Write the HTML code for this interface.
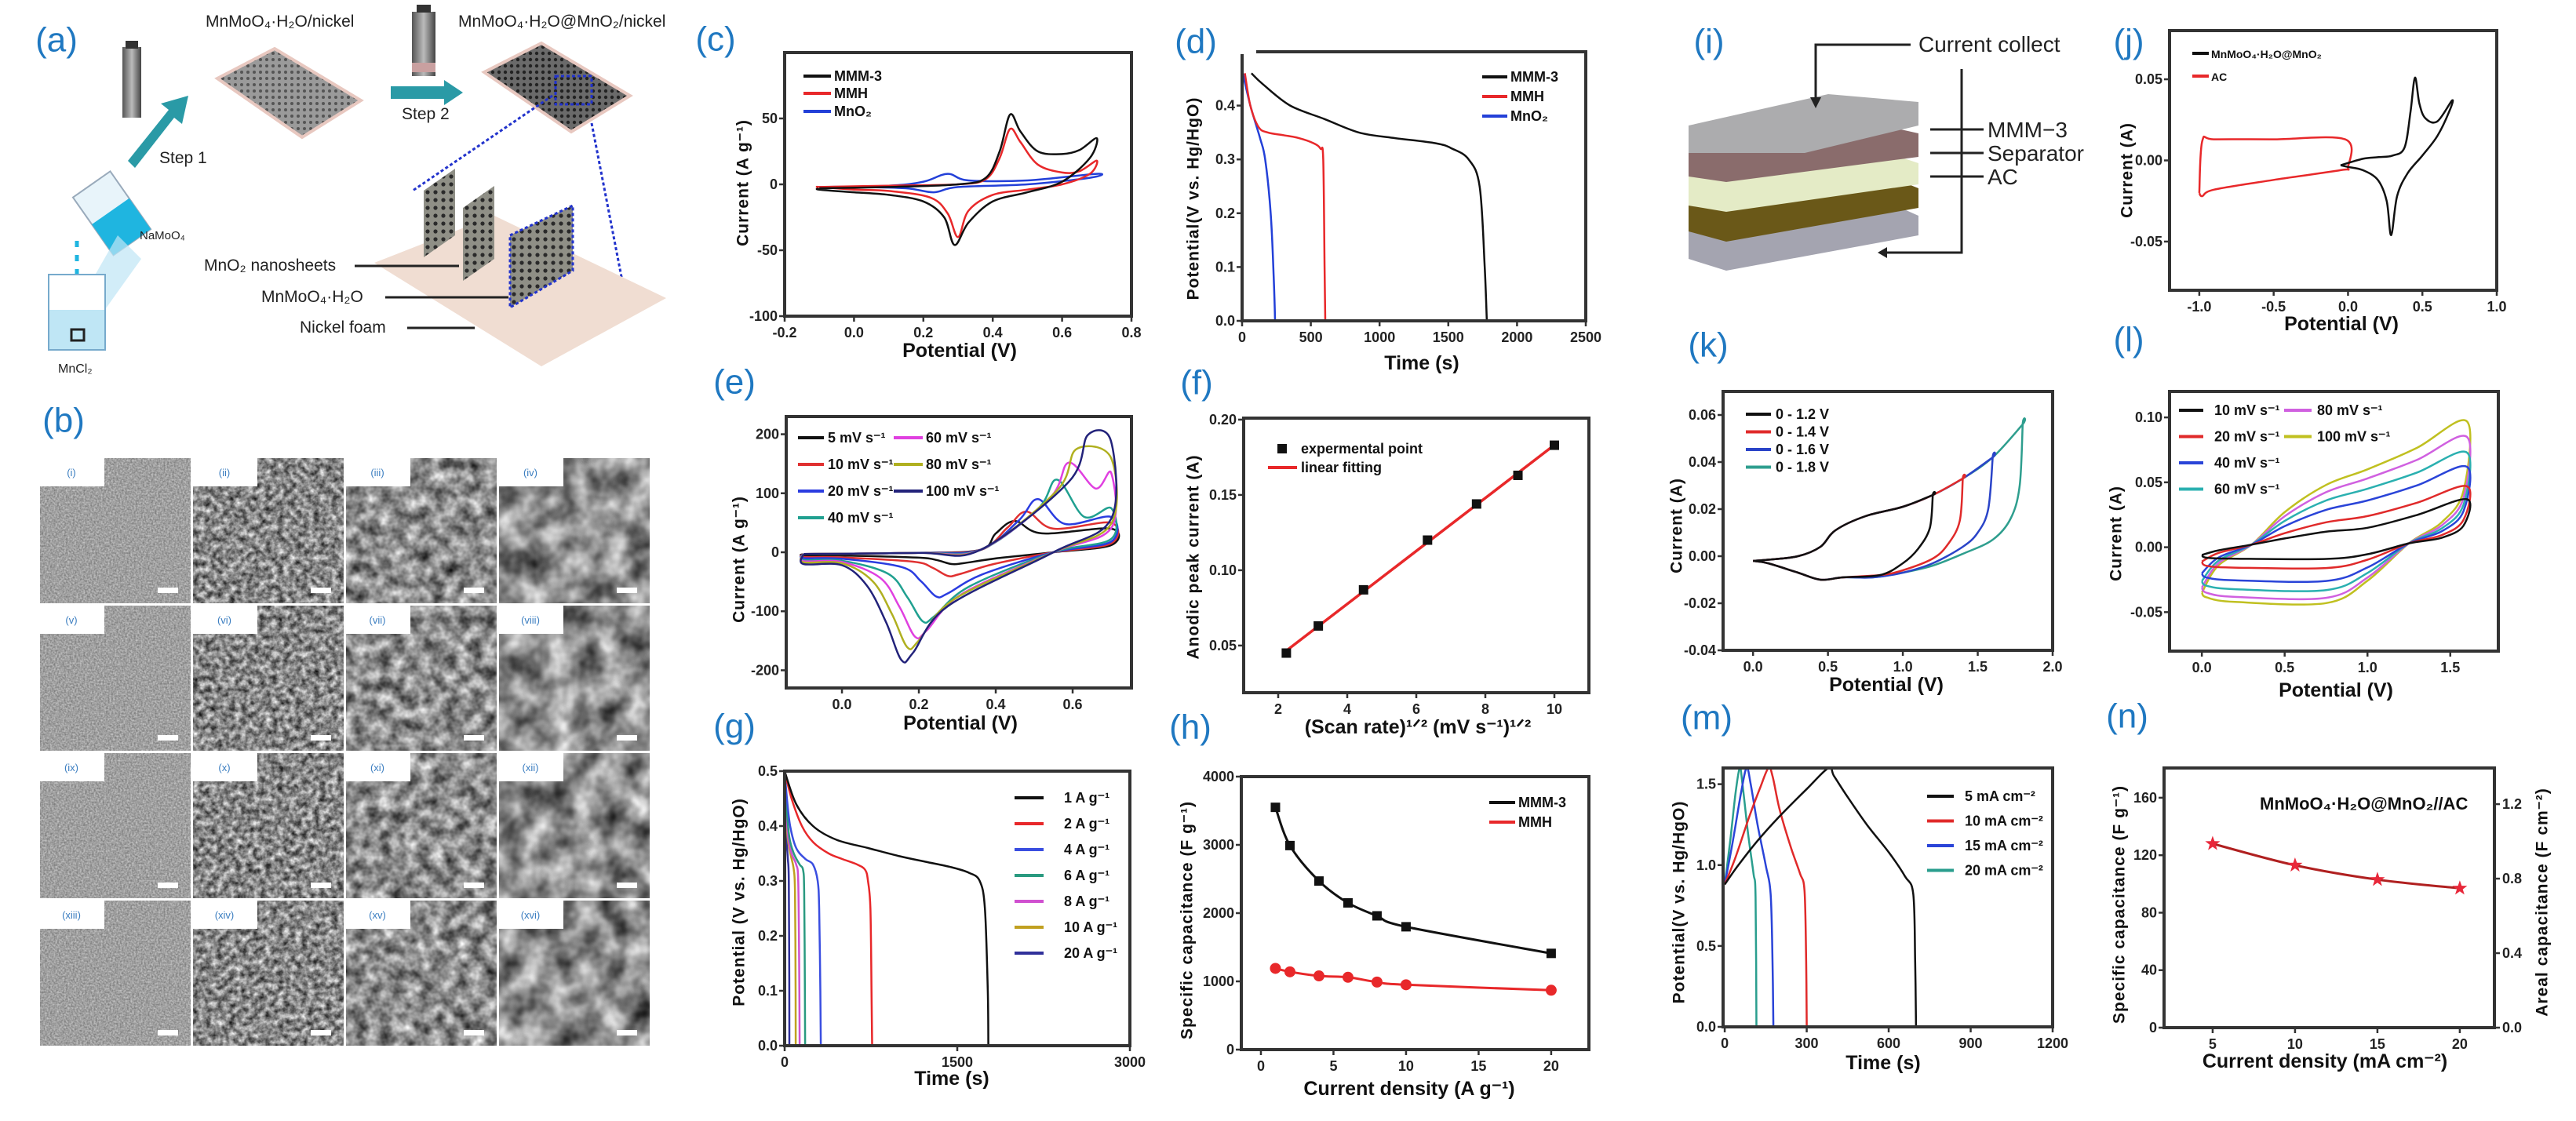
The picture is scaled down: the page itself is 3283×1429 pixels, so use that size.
<!DOCTYPE html>
<html><head><meta charset="utf-8"><title>MnMoO4·H2O@MnO2 figure</title>
<style>
html,body{margin:0;padding:0;background:#fff;}
svg{display:block;}
.tk{font-family:"Liberation Sans Narrow","Liberation Sans",sans-serif;font-weight:bold;font-size:18px;fill:#222;}
.ttl{font-family:"Liberation Sans Narrow","Liberation Sans",sans-serif;font-weight:bold;font-size:25px;fill:#111;}
.ytl{font-family:"Liberation Sans",sans-serif;font-weight:bold;font-size:21px;fill:#111;letter-spacing:1px;}
.lg{font-family:"Liberation Sans Narrow","Liberation Sans",sans-serif;font-weight:bold;font-size:18px;fill:#111;}
.pl{font-family:"Liberation Sans",sans-serif;font-size:44px;fill:#1f78c1;}
.sch{font-family:"Liberation Sans Narrow","Liberation Sans",sans-serif;font-size:21px;fill:#222;}
.sem{font-family:"Liberation Sans",sans-serif;font-size:13px;fill:#3a7dc0;}
</style></head>
<body>
<svg id="fig" xmlns="http://www.w3.org/2000/svg" width="3283" height="1429" viewBox="0 0 3283 1429">
<defs>
  <filter id="semf1" x="0" y="0" width="1" height="1" color-interpolation-filters="sRGB"><feTurbulence type="fractalNoise" baseFrequency="0.45" numOctaves="2" seed="3"/><feColorMatrix values="0.45 0 0 0 0.40  0.45 0 0 0 0.40  0.45 0 0 0 0.40  0 0 0 0 1"/></filter>
  <filter id="semf2" x="0" y="0" width="1" height="1" color-interpolation-filters="sRGB"><feTurbulence type="fractalNoise" baseFrequency="0.13" numOctaves="3" seed="5"/><feColorMatrix values="1.1 0 0 0 -0.02  1.1 0 0 0 -0.02  1.1 0 0 0 -0.02  0 0 0 0 1"/></filter>
  <filter id="semf3" x="0" y="0" width="1" height="1" color-interpolation-filters="sRGB"><feTurbulence type="fractalNoise" baseFrequency="0.06" numOctaves="3" seed="7"/><feColorMatrix values="1.1 0 0 0 0.0  1.1 0 0 0 0.0  1.1 0 0 0 0.0  0 0 0 0 1"/></filter>
  <filter id="semf4" x="0" y="0" width="1" height="1" color-interpolation-filters="sRGB"><feTurbulence type="fractalNoise" baseFrequency="0.03" numOctaves="3" seed="9"/><feColorMatrix values="1.1 0 0 0 0.0  1.1 0 0 0 0.0  1.1 0 0 0 0.0  0 0 0 0 1"/></filter>
  <pattern id="pins" width="8" height="8" patternUnits="userSpaceOnUse"><rect width="8" height="8" fill="#9a9a9a"/><circle cx="4" cy="4" r="2" fill="#555"/></pattern>
  <pattern id="pins2" width="8" height="8" patternUnits="userSpaceOnUse"><rect width="8" height="8" fill="#6a6a6a"/><circle cx="4" cy="4" r="2.2" fill="#222"/></pattern>
  <pattern id="dots" width="10" height="10" patternUnits="userSpaceOnUse"><rect width="10" height="10" fill="#8f8f86"/><circle cx="5" cy="5" r="2.6" fill="#2a2a2a"/></pattern>
  <linearGradient id="auto" x1="0" x2="1"><stop offset="0" stop-color="#555"/><stop offset="0.5" stop-color="#bbb"/><stop offset="1" stop-color="#444"/></linearGradient>
</defs>

<!-- ===== Panel (a) schematic ===== -->
<g>
  <text class="pl" x="72" y="51" text-anchor="middle" dominant-baseline="central">(a)</text>
  <text class="sch" x="262" y="34">MnMoO₄·H₂O/nickel</text>
  <text class="sch" x="584" y="34">MnMoO₄·H₂O@MnO₂/nickel</text>
  <g><rect x="156" y="60" width="24" height="90" fill="url(#auto)"/><rect x="160" y="52" width="16" height="10" fill="#333"/></g>
  <g><rect x="525" y="15" width="30" height="82" fill="url(#auto)"/><rect x="531" y="6" width="18" height="10" fill="#333"/><rect x="525" y="80" width="30" height="12" fill="#c9a0a0"/></g>
  <polygon points="163,205 215,140 205,132 240,122 232,158 222,150 172,214" fill="#2a9aa6"/>
  <text class="sch" x="203" y="208">Step 1</text>
  <polygon points="498,110 566,110 566,102 590,118 566,134 566,126 498,126" fill="#2a9aa6"/>
  <text class="sch" x="512" y="152">Step 2</text>
  <polygon points="277,100 350,62 460,128 385,175" fill="url(#pins)" stroke="#e8c8c0" stroke-width="4"/>
  <polygon points="617,92 690,55 803,122 728,168" fill="url(#pins2)" stroke="#e8c8c0" stroke-width="4"/>
  <rect x="708" y="97" width="46" height="36" fill="none" stroke="#2233cc" stroke-width="3" stroke-dasharray="4,3"/>
  <line x1="704" y1="122" x2="526" y2="243" stroke="#2233cc" stroke-width="3" stroke-dasharray="4,3"/>
  <line x1="754" y1="157" x2="793" y2="358" stroke="#2233cc" stroke-width="3" stroke-dasharray="4,3"/>
  <polygon points="477,335 630,275 849,380 690,467" fill="#f0ddd2"/>
  <polygon points="540,243 580,215 580,300 540,328" fill="url(#dots)"/>
  <polygon points="590,265 630,237 630,330 590,358" fill="url(#dots)"/>
  <polygon points="650,300 730,262 730,345 650,392" fill="url(#dots)" stroke="#2233cc" stroke-width="3" stroke-dasharray="4,3"/>
  <text class="sch" x="260" y="345">MnO₂ nanosheets</text>
  <line x1="452" y1="339" x2="585" y2="339" stroke="#222" stroke-width="3"/>
  <text class="sch" x="333" y="385">MnMoO₄·H₂O</text>
  <line x1="491" y1="379" x2="648" y2="379" stroke="#222" stroke-width="3"/>
  <text class="sch" x="382" y="424">Nickel foam</text>
  <line x1="519" y1="418" x2="605" y2="418" stroke="#222" stroke-width="3"/>
  <g transform="rotate(-35 140 270)"><rect x="112" y="228" width="58" height="90" fill="#e8f4fa" stroke="#9ab" stroke-width="2"/><rect x="112" y="270" width="58" height="48" fill="#1fb5e0"/></g>
  <polygon points="150,300 180,330 130,400 110,370" fill="#bfe6f5" opacity="0.7"/>
  <text class="sch" x="178" y="305" style="font-size:15px">NaMoO₄</text>
  <line x1="98" y1="307" x2="98" y2="370" stroke="#1fb5e0" stroke-width="5" stroke-dasharray="8,10"/>
  <rect x="62" y="350" width="72" height="96" fill="#fff" stroke="#7ac" stroke-width="2"/>
  <rect x="63" y="395" width="70" height="50" fill="#bfe6f5"/>
  <rect x="91" y="420" width="16" height="14" fill="none" stroke="#222" stroke-width="3"/>
  <text class="sch" x="74" y="475" style="font-size:16px">MnCl₂</text>
</g>

<!-- ===== Panel (b) SEM grid ===== -->
<g id="semgrid">
  <text class="pl" x="81" y="536" text-anchor="middle" dominant-baseline="central">(b)</text>
</g>

<!-- ===== Panel (i) schematic ===== -->
<g>
  <text class="pl" x="2178" y="53" text-anchor="middle" dominant-baseline="central">(i)</text>
  <polygon points="2152,290 2400,255 2445,275 2445,300 2200,345 2152,330" fill="#a4a4b0"/>
  <polygon points="2152,255 2400,222 2445,240 2445,265 2200,308 2152,295" fill="#6a5818"/>
  <polygon points="2152,225 2400,193 2445,208 2445,235 2200,270 2152,262" fill="#e4ebc6"/>
  <polygon points="2152,192 2400,160 2445,170 2445,200 2200,232 2152,225" fill="#8a6c6c"/>
  <polygon points="2152,160 2330,120 2445,130 2445,160 2300,195 2152,195" fill="#acacae"/>
  <polyline points="2435,57 2314,57 2314,130" fill="none" stroke="#222" stroke-width="3"/>
  <polygon points="2307,124 2321,124 2314,138" fill="#222"/>
  <text class="sch" x="2445" y="66" style="font-size:28px">Current collect</text>
  <polyline points="2500,88 2500,322 2400,322" fill="none" stroke="#222" stroke-width="3"/>
  <polygon points="2393,322 2405,315 2405,329" fill="#222"/>
  <line x1="2528" y1="165" x2="2460" y2="165" stroke="#222" stroke-width="3"/>
  <line x1="2528" y1="195" x2="2460" y2="195" stroke="#222" stroke-width="3"/>
  <line x1="2528" y1="225" x2="2460" y2="225" stroke="#222" stroke-width="3"/>
  <text class="sch" x="2533" y="175" style="font-size:28px">MMM−3</text>
  <text class="sch" x="2533" y="205" style="font-size:28px">Separator</text>
  <text class="sch" x="2533" y="235" style="font-size:28px">AC</text>
</g>
<g id="charts"></g>
</svg>

<script>
// ---------------- DATA ----------------
// (c) CV comparison
const cSeries = ['MMM-3', 'MMH', 'MnO2'];
const cV_mmm3 = [-0.1, 0.1, 0.3, 0.38, 0.42, 0.45, 0.48, 0.53, 0.6, 0.65, 0.7, 0.68, 0.6, 0.5, 0.4, 0.33, 0.29, 0.26, 0.2, 0.1, 0.0, -0.1, -0.1];
const cI_mmm3 = [-3, -2, 0, 5, 25, 53, 40, 25, 23, 26, 35, 20, 2, -6, -13, -29, -46, -25, -13, -8, -6, -4, -3];
const cV_mmh = [-0.1, 0.1, 0.3, 0.38, 0.42, 0.45, 0.48, 0.53, 0.6, 0.65, 0.7, 0.68, 0.6, 0.5, 0.4, 0.33, 0.3, 0.27, 0.22, 0.1, 0.0, -0.1, -0.1];
const cI_mmh = [-2, -1, 0, 4, 20, 42, 32, 15, 9, 10, 18, 8, 0, -4, -8, -20, -40, -22, -10, -5, -4, -2, -2];
const cV_mno2 = [-0.1, 0.1, 0.2, 0.27, 0.33, 0.5, 0.7, 0.68, 0.5, 0.3, 0.23, 0.15, 0.0, -0.1];
const cI_mno2 = [-2, -1, 2, 8, 3, 3, 8, 5, 0, -2, -6, -3, -2, -2];
// (d) GCD comparison
const dT_mmm3 = [68, 150, 350, 600, 850, 1100, 1408, 1528, 1648, 1728, 1765, 1780];
const dV_mmm3 = [0.46, 0.44, 0.40, 0.375, 0.35, 0.34, 0.33, 0.32, 0.30, 0.25, 0.10, 0];
const dT_mmh = [20, 60, 120, 188, 300, 408, 520, 570, 590, 600, 605];
const dV_mmh = [0.46, 0.40, 0.36, 0.35, 0.345, 0.34, 0.33, 0.32, 0.30, 0.10, 0];
const dT_mno2 = [5, 60, 130, 168, 208, 230, 240];
const dV_mno2 = [0.46, 0.40, 0.34, 0.30, 0.20, 0.08, 0];
// (e) CV at scan rates
const eRates = [5, 10, 20, 40, 60, 80, 100];
const eAnodV = [0.45, 0.48, 0.51, 0.56, 0.59, 0.61, 0.64];
const eAnodI = [53, 69, 90, 123, 152, 175, 199];
const eCathV = [0.285, 0.275, 0.245, 0.21, 0.19, 0.17, 0.155];
const eCathI = [-20, -40, -75, -117, -143, -161, -183];
const eEndI = [40, 50, 60, 75, 135, 160, 188];
const eStartI = [-5, -8, -10, -13, -15, -17, -20];
// (f) anodic peak current vs sqrt scan rate
const fX = [2.236, 3.162, 4.472, 6.325, 7.746, 8.944, 10];
const fY = [0.045, 0.063, 0.087, 0.120, 0.144, 0.163, 0.183];
// (g) GCD at current densities
const gRates = [1, 2, 4, 6, 8, 10, 20];
const gT = [
  [0, 100, 246, 450, 724, 1000, 1223, 1449, 1600, 1695, 1740, 1765, 1770],
  [0, 60, 150, 250, 383, 500, 630, 700, 724, 745, 755, 760],
  [0, 20, 48, 100, 180, 246, 287, 300, 310, 314],
  [0, 15, 40, 80, 130, 160, 170, 176, 178],
  [0, 12, 30, 60, 100, 118, 126, 130],
  [0, 10, 25, 50, 80, 90, 95, 96],
  [0, 6, 15, 28, 36, 40, 41]
];
const gV = [
  [0.5, 0.44, 0.40, 0.375, 0.36, 0.345, 0.335, 0.325, 0.315, 0.30, 0.25, 0.10, 0],
  [0.5, 0.45, 0.40, 0.37, 0.35, 0.34, 0.33, 0.32, 0.30, 0.25, 0.10, 0],
  [0.5, 0.45, 0.40, 0.36, 0.34, 0.33, 0.30, 0.25, 0.10, 0],
  [0.5, 0.44, 0.38, 0.35, 0.33, 0.32, 0.28, 0.10, 0],
  [0.5, 0.44, 0.38, 0.35, 0.33, 0.30, 0.15, 0],
  [0.5, 0.44, 0.38, 0.35, 0.32, 0.28, 0.12, 0],
  [0.5, 0.44, 0.38, 0.34, 0.30, 0.12, 0]
];
// (h) specific capacitance
const hX = [1, 2, 4, 6, 8, 10, 20];
const hMMM3 = [3550, 2990, 2470, 2150, 1960, 1800, 1410];
const hMMH = [1190, 1140, 1080, 1060, 990, 950, 870];
// (j) CV of positive and negative electrodes
const jV_ac = [-1.0, -0.98, -0.9, -0.5, -0.02, 0.0, -0.05, -0.5, -0.9, -0.98, -1.0];
const jI_ac = [-0.02, 0.012, 0.013, 0.013, 0.013, -0.004, -0.006, -0.012, -0.018, -0.022, -0.02];
const jV_mmm = [-0.05, 0.1, 0.2, 0.3, 0.38, 0.42, 0.45, 0.48, 0.52, 0.6, 0.7, 0.68, 0.6, 0.5, 0.4, 0.33, 0.29, 0.26, 0.2, 0.1, 0.0, -0.05];
const jI_mmm = [-0.003, 0.001, 0.002, 0.003, 0.008, 0.03, 0.051, 0.035, 0.026, 0.024, 0.037, 0.03, 0.015, 0.003, -0.008, -0.022, -0.046, -0.025, -0.012, -0.006, -0.004, -0.003];
// (k) device CV at voltage windows
const kWindows = ['0 - 1.2 V', '0 - 1.4 V', '0 - 1.6 V', '0 - 1.8 V'];
const kUpV = [0, 0.1, 0.3, 0.45, 0.55, 0.75, 1.0, 1.2, 1.4, 1.6, 1.8];
const kUpI = [-0.002, -0.0015, 0, 0.004, 0.011, 0.017, 0.021, 0.026, 0.033, 0.042, 0.056];
const kMax = [1.2, 1.4, 1.6, 1.8];
const kLowV = [
  [1.2, 1.18, 1.1, 1.0, 0.85, 0.6, 0.45, 0.3, 0.1, 0],
  [1.4, 1.38, 1.3, 1.2, 1.0, 0.85, 0.6, 0.45, 0.3, 0.1, 0],
  [1.6, 1.57, 1.5, 1.4, 1.2, 1.0, 0.8, 0.6, 0.45, 0.3, 0.1, 0],
  [1.8, 1.78, 1.72, 1.6, 1.4, 1.2, 1.0, 0.8, 0.6, 0.45, 0.3, 0.1, 0]
];
const kLowI = [
  [0.026, 0.012, 0.003, -0.003, -0.008, -0.009, -0.010, -0.007, -0.003, -0.002],
  [0.033, 0.015, 0.005, -0.001, -0.006, -0.008, -0.009, -0.010, -0.007, -0.003, -0.002],
  [0.042, 0.02, 0.01, 0.004, -0.003, -0.007, -0.009, -0.009, -0.010, -0.007, -0.003, -0.002],
  [0.056, 0.03, 0.016, 0.007, 0.001, -0.004, -0.007, -0.009, -0.009, -0.010, -0.007, -0.003, -0.002]
];
// (l) device CV at scan rates
const lRates = [10, 20, 40, 60, 80, 100];
const lTop = [0.037, 0.047, 0.062, 0.073, 0.085, 0.097];
const lLow = [-0.009, -0.016, -0.026, -0.033, -0.039, -0.043];
const lUp = [0.015, 0.024, 0.036, 0.045, 0.053, 0.060];
const lStart = [-0.006, -0.011, -0.020, -0.026, -0.031, -0.035];
// (m) device GCD
const mRates = ['5 mA cm⁻²', '10 mA cm⁻²', '15 mA cm⁻²', '20 mA cm⁻²'];
const mT = [
  [0, 50, 120, 200, 300, 380, 400, 450, 520, 600, 660, 690, 697, 700],
  [0, 40, 90, 130, 160, 175, 200, 240, 275, 292, 298, 300],
  [0, 30, 60, 80, 95, 120, 150, 168, 175, 178],
  [0, 20, 40, 55, 65, 85, 105, 113, 116]
];
const mV = [
  [0.88, 1.0, 1.15, 1.3, 1.47, 1.6, 1.55, 1.42, 1.25, 1.08, 0.93, 0.82, 0.4, 0],
  [0.88, 1.05, 1.3, 1.48, 1.6, 1.55, 1.35, 1.12, 0.95, 0.84, 0.4, 0],
  [0.88, 1.15, 1.45, 1.6, 1.5, 1.25, 1.0, 0.82, 0.4, 0],
  [0.88, 1.15, 1.45, 1.6, 1.5, 1.2, 0.95, 0.8, 0]
];
// (n) device capacitance
const nX = [5, 10, 15, 20];
const nY = [128, 113, 103, 97];

// ---------------- HELPERS ----------------
const NS = 'http://www.w3.org/2000/svg';
const root = document.getElementById('charts');
function mk(tag, parent) { const e = document.createElementNS(NS, tag); parent.appendChild(e); return e; }
function set(e, o) { for (const k in o) e.setAttribute(k, o[k]); return e; }
function smooth(pts) {
  let d = 'M' + pts[0][0].toFixed(1) + ',' + pts[0][1].toFixed(1);
  for (let i = 0; i < pts.length - 1; i++) {
    const p0 = pts[i - 1] || pts[i], p1 = pts[i], p2 = pts[i + 1], p3 = pts[i + 2] || p2;
    const c1 = [p1[0] + (p2[0] - p0[0]) / 6, p1[1] + (p2[1] - p0[1]) / 6];
    const c2 = [p2[0] - (p3[0] - p1[0]) / 6, p2[1] - (p3[1] - p1[1]) / 6];
    d += 'C' + c1[0].toFixed(1) + ',' + c1[1].toFixed(1) + ' ' + c2[0].toFixed(1) + ',' + c2[1].toFixed(1) + ' ' + p2[0].toFixed(1) + ',' + p2[1].toFixed(1);
  }
  return d;
}
function axes(id, L, R, T, B, xmin, xmax, ymin, ymax) {
  const g = mk('g', root);
  
  
  const cp = mk('clipPath', g); cp.setAttribute('id', 'clip-' + id);
  const cr = mk('rect', cp); set(cr, { x: L, y: T, width: R - L, height: B - T });
  
  
  const plot = mk('g', g); plot.setAttribute('clip-path', 'url(#clip-' + id + ')');
  
  
  return { id, g, plot, L, R, T, B,
    sx: v => L + (v - xmin) / (xmax - xmin) * (R - L),
    sy: v => B - (v - ymin) / (ymax - ymin) * (B - T) };
}
function frame(a, xt, xd, yt, yd, xtitle, xtx, xty, ytitle, ytx, yty) {
  const f = mk('rect', a.g); set(f, { x: a.L, y: a.T, width: a.R - a.L, height: a.B - a.T, fill: 'none', stroke: '#333', 'stroke-width': 4 });
  
  
  xt.forEach(v => {
    const x = a.sx(v);
    const t = mk('line', a.g); set(t, { x1: x, x2: x, y1: a.B, y2: a.B + 7, stroke: '#333', 'stroke-width': 2.5 });
    
    
    const l = mk('text', a.g); set(l, { x: x, y: a.B + 27, 'text-anchor': 'middle', class: 'tk' }); l.textContent = v.toFixed(xd);
    
    
  });
  yt.forEach(v => {
    const y = a.sy(v);
    const t = mk('line', a.g); set(t, { x1: a.L - 7, x2: a.L, y1: y, y2: y, stroke: '#333', 'stroke-width': 2.5 });
    
    
    const l = mk('text', a.g); set(l, { x: a.L - 9, y: y + 6, 'text-anchor': 'end', class: 'tk' }); l.textContent = v.toFixed(yd);
    
    
  });
  const xtl = mk('text', a.g); set(xtl, { x: xtx, y: xty, 'text-anchor': 'middle', 'dominant-baseline': 'central', class: 'ttl' }); xtl.textContent = xtitle;
  
  
  const ytl = mk('text', a.g); set(ytl, { x: ytx, y: yty, 'text-anchor': 'middle', 'dominant-baseline': 'central', class: 'ytl', transform: 'rotate(-90 ' + ytx + ' ' + yty + ')' }); ytl.textContent = ytitle;
  
  
}
function curve(a, xs, ys, color, w, name) {
  const pts = xs.map((x, i) => [a.sx(x), a.sy(ys[i])]);
  const p = mk('path', a.plot); set(p, { d: smooth(pts), fill: 'none', stroke: color, 'stroke-width': w || 2.5, 'stroke-linejoin': 'round' });
  
  
  return p;
}
function legend(a, x1, x2, y, color, label, tx, size) {
  const l = mk('line', a.g); set(l, { x1: x1, x2: x2, y1: y, y2: y, stroke: color, 'stroke-width': 4 });
  
  
  const t = mk('text', a.g); set(t, { x: tx, y: y + 6, class: 'lg' }); t.textContent = label;
  if (size) t.style.fontSize = size + 'px';
  
  
}
function panelLabel(txt, x, y) {
  const t = mk('text', root); set(t, { x: x, y: y, 'text-anchor': 'middle', 'dominant-baseline': 'central', class: 'pl' }); t.textContent = txt;
  
  
}

// ---------------- SEM GRID ----------------
(function () {
  const sg = document.getElementById('semgrid');
  const nums = ['i','ii','iii','iv','v','vi','vii','viii','ix','x','xi','xii','xiii','xiv','xv','xvi'];
  for (let r = 0; r < 4; r++) for (let c = 0; c < 4; c++) {
    const x = 51 + c * 195, y = 584 + r * 188;
    const cell = mk('rect', sg); set(cell, { x: x, y: y, width: 192, height: 185, filter: 'url(#semf' + (c + 1) + ')' });
    
    
    const box = mk('rect', sg); set(box, { x: x, y: y, width: 82, height: 36, fill: '#fff' });
    
    
    const t = mk('text', sg); set(t, { x: x + 40, y: y + 23, 'text-anchor': 'middle', class: 'sem' }); t.textContent = '(' + nums[r * 4 + c] + ')';
    
    
    const sb = mk('rect', sg); set(sb, { x: x + 150, y: y + 165, width: 26, height: 7, fill: '#fff' });
    
    
  }
})();

// ---------------- CHARTS ----------------
const BLK = '#111', RED = '#e8282a', BLU = '#2340d8';
// (c)
panelLabel('(c)', 912, 50);
const ac = axes('c', 1000, 1442, 67, 403, -0.2, 0.8, -100, 100);
curve(ac, cV_mno2, cI_mno2, BLU, 2.5, 'cv-mno2');
curve(ac, cV_mmh, cI_mmh, RED, 2.5, 'cv-mmh');
curve(ac, cV_mmm3, cI_mmm3, BLK, 2.5, 'cv-mmm3');
frame(ac, [-0.2, 0, 0.2, 0.4, 0.6, 0.8], 1, [-100, -50, 0, 50], 0, 'Potential (V)', 1223, 447, 'Current (A g⁻¹)', 947, 233);
legend(ac, 1024, 1059, 97, BLK, 'MMM-3', 1063); legend(ac, 1024, 1059, 119, RED, 'MMH', 1063); legend(ac, 1024, 1059, 142, BLU, 'MnO₂', 1063);

// (d)
panelLabel('(d)', 1524, 53);
const ad = axes('d', 1583, 2021, 66, 409, 0, 2500, 0, 0.5);
curve(ad, dT_mno2, dV_mno2, BLU, 2.5, 'gcd-mno2');
curve(ad, dT_mmh, dV_mmh, RED, 2.5, 'gcd-mmh');
curve(ad, dT_mmm3, dV_mmm3, BLK, 2.5, 'gcd-mmm3');
frame(ad, [0, 500, 1000, 1500, 2000, 2500], 0, [0, 0.1, 0.2, 0.3, 0.4], 1, 'Time (s)', 1812, 463, 'Potential(V vs. Hg/HgO)', 1521, 253);
{ const cover = mk('rect', ad.g); set(cover, { x: 1581, y: 62, width: 20, height: 7, fill: '#fff' });
  
   }
legend(ad, 1889, 1921, 98, BLK, 'MMM-3', 1925); legend(ad, 1889, 1921, 123, RED, 'MMH', 1925); legend(ad, 1889, 1921, 148, BLU, 'MnO₂', 1925);

// (e)
panelLabel('(e)', 936, 487);
const ae = axes('e', 1002, 1442, 531, 877, -0.145, 0.753, -230, 230);
const eCol = ['#111', '#e03030', '#2a3ce0', '#20a090', '#e040e0', '#b0b020', '#22227a'];
eRates.forEach((r, i) => {
  const up = [[-0.1, -3], [0.2, -1], [0.36, 4], [eAnodV[i] - 0.05, eAnodI[i] * 0.6], [eAnodV[i], eAnodI[i]]];
  if (eAnodV[i] < 0.6) up.push([eAnodV[i] + 0.07, eEndI[i] * 0.8]);
  up.push([0.7, eEndI[i]]);
  const low = [[0.7, eEndI[i] * 0.3], [0.55, 0], [eCathV[i] + 0.12, eCathI[i] * 0.5], [eCathV[i] + 0.03, eCathI[i] * 0.93], [eCathV[i], eCathI[i]],
    [eCathV[i] - 0.04, eCathI[i] * 0.65], [eCathV[i] - 0.09, eCathI[i] * 0.2 + eStartI[i]], [0.0, eStartI[i] * 1.1], [-0.1, eStartI[i]], [-0.1, -3]];
  const all = up.concat(low);
  curve(ae, all.map(p => p[0]), all.map(p => p[1]), eCol[i], 2.5, 'cv-' + r + '-mv');
});
frame(ae, [0, 0.2, 0.4, 0.6], 1, [-200, -100, 0, 100, 200], 0, 'Potential (V)', 1224, 922, 'Current (A g⁻¹)', 942, 713);
[0, 1, 2, 3].forEach((k, j) => legend(ae, 1017, 1050, 558 + j * 34, eCol[k], eRates[k] + ' mV s⁻¹', 1055));
[4, 5, 6].forEach((k, j) => legend(ae, 1139, 1176, 558 + j * 34, eCol[k], eRates[k] + ' mV s⁻¹', 1180));

// (f)
panelLabel('(f)', 1525, 488);
const af = axes('f', 1585, 2025, 533, 883, 1, 11, 0.0187, 0.201);
{
  const n = fX.length, mx = fX.reduce((s, v) => s + v, 0) / n, my = fY.reduce((s, v) => s + v, 0) / n;
  let sxy = 0, sxx = 0; fX.forEach((x, i) => { sxy += (x - mx) * (fY[i] - my); sxx += (x - mx) * (x - mx); });
  const b = sxy / sxx, a0 = my - b * mx;
  const x0 = fX[0], x1 = fX[n - 1];
  const fl = mk('line', af.plot); set(fl, { x1: af.sx(x0), y1: af.sy(a0 + b * x0), x2: af.sx(x1), y2: af.sy(a0 + b * x1), stroke: RED, 'stroke-width': 3.5 });
  
  
  fX.forEach((x, i) => {
    const s = mk('rect', af.plot); set(s, { x: af.sx(x) - 6, y: af.sy(fY[i]) - 6, width: 12, height: 12, fill: '#111' });
    
    
  });
}
frame(af, [2, 4, 6, 8, 10], 0, [0.05, 0.10, 0.15, 0.20], 2, '(Scan rate)¹ᐟ² (mV s⁻¹)¹ᐟ²', 1807, 927, 'Anodic peak current (A)', 1521, 710);
{ const m = mk('rect', af.g); set(m, { x: 1628, y: 566, width: 12, height: 12, fill: '#111' });
  
  
  const t = mk('text', af.g); set(t, { x: 1658, y: 578, class: 'lg' }); t.textContent = 'expermental point';
  
   }
legend(af, 1616, 1653, 596, RED, 'linear fitting', 1658);

// (g)
panelLabel('(g)', 936, 926);
const ag = axes('g', 1000, 1440, 983, 1333, 0, 3000, 0, 0.5);
const gCol = ['#111', '#e8282a', '#3a4ee0', '#2a9a80', '#d050d0', '#c0a020', '#30309a'];
for (let i = gRates.length - 1; i >= 0; i--) curve(ag, gT[i], gV[i], gCol[i], 2.5, 'gcd-' + gRates[i] + '-ag');
frame(ag, [0, 1500, 3000], 0, [0, 0.1, 0.2, 0.3, 0.4, 0.5], 1, 'Time (s)', 1213, 1375, 'Potential (V vs. Hg/HgO)', 942, 1150);
gRates.forEach((r, i) => legend(ag, 1293, 1330, 1017 + i * 33, gCol[i], r + ' A g⁻¹', 1356));

// (h)
panelLabel('(h)', 1517, 927);
const ah = axes('h', 1582, 2025, 990, 1338, -1.35, 22.6, 0, 4000);
curve(ah, hX, hMMM3, '#111', 3, 'capacitance-mmm3-line');
curve(ah, hX, hMMH, RED, 3, 'capacitance-mmh-line');
hX.forEach((x, i) => {
  const s = mk('rect', ah.plot); set(s, { x: ah.sx(x) - 6, y: ah.sy(hMMM3[i]) - 6, width: 12, height: 12, fill: '#111' });
  
  
  const c = mk('circle', ah.plot); set(c, { cx: ah.sx(x), cy: ah.sy(hMMH[i]), r: 7, fill: RED });
  
  
});
frame(ah, [0, 5, 10, 15, 20], 0, [0, 1000, 2000, 3000, 4000], 0, 'Current density (A g⁻¹)', 1796, 1388, 'Specific capacitance (F g⁻¹)', 1513, 1173);
legend(ah, 1898, 1931, 1023, '#111', 'MMM-3', 1935); legend(ah, 1898, 1931, 1048, RED, 'MMH', 1935);

// (j)
panelLabel('(j)', 2713, 53);
const aj = axes('j', 2765, 3182, 39, 370, -1.2, 1.0, -0.08, 0.08);
curve(aj, jV_ac, jI_ac, RED, 2.5, 'cv-ac');
curve(aj, jV_mmm, jI_mmm, '#111', 2.5, 'cv-mnmoo4-mno2');
frame(aj, [-1, -0.5, 0, 0.5, 1], 1, [-0.05, 0, 0.05], 2, 'Potential (V)', 2984, 413, 'Current (A)', 2711, 217);
legend(aj, 2794, 2815, 68, '#111', 'MnMoO₄·H₂O@MnO₂', 2818, 14); legend(aj, 2794, 2815, 97, RED, 'AC', 2818, 14);

// (k)
panelLabel('(k)', 2177, 440);
const ak = axes('k', 2196, 2616, 499, 829, -0.2, 2.0, -0.04, 0.07);
const kCol = ['#111', '#e02a2a', '#2a44c8', '#2e9e8e'];
for (let i = kMax.length - 1; i >= 0; i--) {
  const uv = [], ui = [];
  kUpV.forEach((v, j) => { if (v <= kMax[i] + 1e-9) { uv.push(v); ui.push(kUpI[j]); } });
  curve(ak, uv.concat(kLowV[i]), ui.concat(kLowI[i]), kCol[i], 2.5, 'cv-window-' + kMax[i]);
}
frame(ak, [0, 0.5, 1.0, 1.5, 2.0], 1, [-0.04, -0.02, 0, 0.02, 0.04, 0.06], 2, 'Potential (V)', 2404, 873, 'Current (A)', 2137, 670);
kWindows.forEach((w, i) => legend(ak, 2225, 2257, 528 + i * 22.5, kCol[i], w, 2263));

// (l)
panelLabel('(l)', 2713, 433);
const al = axes('l', 2765, 3184, 499, 830, -0.195, 1.79, -0.08, 0.12);
const lCol = ['#111', '#e02a2a', '#2a44d8', '#2ab0b0', '#d060e0', '#c0c020'];
for (let i = lRates.length - 1; i >= 0; i--) {
  const pts = [[0, lStart[i]], [0.1, lStart[i] * 0.4], [0.3, 0.002], [0.5, lUp[i] * 0.45], [0.75, lUp[i] * 0.8], [1.0, lUp[i]],
    [1.3, lUp[i] + (lTop[i] - lUp[i]) * 0.45], [1.6, lTop[i]], [1.58, lTop[i] * 0.45], [1.45, lTop[i] * 0.2], [1.25, 0.003],
    [1.0, lLow[i] * 0.6], [0.75, lLow[i]], [0.2, lLow[i] * 0.98], [0.03, lLow[i] * 0.9], [0, lStart[i]]];
  curve(al, pts.map(p => p[0]), pts.map(p => p[1]), lCol[i], 2.5, 'cv-device-' + lRates[i] + '-mv');
}
frame(al, [0, 0.5, 1.0, 1.5], 1, [-0.05, 0, 0.05, 0.10], 2, 'Potential (V)', 2977, 880, 'Current (A)', 2697, 680);
[0, 1, 2, 3].forEach((k, j) => legend(al, 2777, 2808, 523 + j * 33.5, lCol[k], lRates[k] + ' mV s⁻¹', 2822));
[4, 5].forEach((k, j) => legend(al, 2911, 2946, 523 + j * 33.5, lCol[k], lRates[k] + ' mV s⁻¹', 2953));

// (m)
panelLabel('(m)', 2175, 915);
const am = axes('m', 2196, 2616, 979, 1309, -6, 1200, 0, 1.6);
const mCol = ['#111', '#e02a2a', '#2a44d8', '#2a9e8e'];
for (let i = mT.length - 1; i >= 0; i--) curve(am, mT[i], mV[i], mCol[i], 2.5, 'gcd-device-' + i);
frame(am, [0, 300, 600, 900, 1200], 0, [0, 0.5, 1.0, 1.5], 1, 'Time (s)', 2400, 1355, 'Potential(V vs. Hg/HgO)', 2140, 1150);
mRates.forEach((r, i) => legend(am, 2456, 2490, 1015 + i * 31.5, mCol[i], r, 2504));

// (n)
panelLabel('(n)', 2711, 913);
const an = axes('n', 2758, 3179, 979, 1310, 2.05, 22.1, 0, 180.7);
curve(an, nX, nY, '#b02020', 3, 'device-capacitance-line');
nX.forEach((x, i) => {
  const cx = an.sx(x), cy = an.sy(nY[i]);
  let pts = '';
  for (let k = 0; k < 10; k++) { const r = k % 2 ? 4 : 10, ang = -Math.PI / 2 + k * Math.PI / 5; pts += (cx + r * Math.cos(ang)).toFixed(1) + ',' + (cy + r * Math.sin(ang)).toFixed(1) + ' '; }
  const s = mk('polygon', an.plot); set(s, { points: pts, fill: '#e8283a' });
  
  
});
frame(an, [5, 10, 15, 20], 0, [0, 40, 80, 120, 160], 0, 'Current density (mA cm⁻²)', 2963, 1353, 'Specific capacitance (F g⁻¹)', 2701, 1153);
{
  const rTicks = [0, 0.4, 0.8, 1.2];
  rTicks.forEach(v => {
    const y = an.B - v / 1.394 * (an.B - an.T);
    const t = mk('line', an.g); set(t, { x1: an.R, x2: an.R + 7, y1: y, y2: y, stroke: '#333', 'stroke-width': 2.5 });
    
    
    const l = mk('text', an.g); set(l, { x: an.R + 10, y: y + 6, class: 'tk' }); l.textContent = v.toFixed(1);
    
    
  });
  const rt = mk('text', an.g); set(rt, { x: 3240, y: 1150, 'text-anchor': 'middle', 'dominant-baseline': 'central', class: 'ytl', transform: 'rotate(-90 3240 1150)' });
  rt.textContent = 'Areal capacitance (F cm⁻²)';
  
  
  const nt = mk('text', an.g); set(nt, { x: 2880, y: 1032, class: 'lg' }); nt.style.fontSize = '22px';
  nt.textContent = 'MnMoO₄·H₂O@MnO₂//AC';
  
  
}
</script>
</body></html>
